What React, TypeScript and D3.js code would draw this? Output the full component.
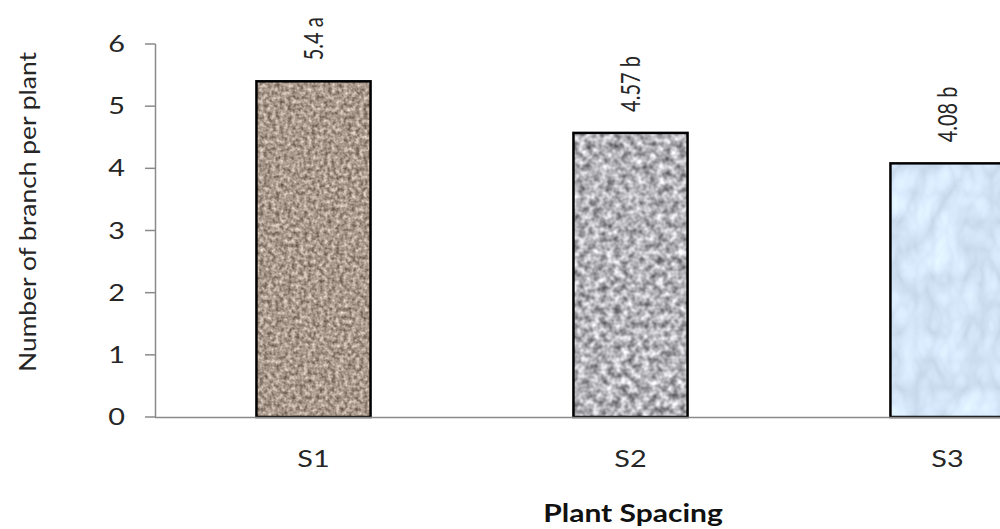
import React from "react";
import * as d3 from "d3";

// Number of branches per plant by plant spacing
const categories = ["S1", "S2", "S3"];
const values = [5.4, 4.57, 4.08];
const letters = ["a", "b", "b"];
const yTicks = [0, 1, 2, 3, 4, 5, 6];

const W = 1000;
const H = 529;
const FONT = "Lato, 'Open Sans', sans-serif";

// texture settings per bar: base frequency, colour-matrix gain, target mean colour, noise mean
const textures = [
  { freq: "0.25", octaves: 2, k: 0.75, o: [0.66, 0.6, 0.55], mean: 0.5, type: "fractalNoise", seed: 3, blur: 0.5 },
  { freq: "0.14", octaves: 2, k: 0.95, o: [0.7, 0.7, 0.72], mean: 0.5, type: "fractalNoise", seed: 7, blur: 0.7 },
  { freq: "0.03 0.018", octaves: 3, k: 0.2, o: [0.82, 0.89, 0.96], mean: 0.25, type: "turbulence", seed: 11, blur: 0.6 },
];

export default function App() {
  const x = d3
    .scaleBand<string>()
    .domain(categories)
    .range([155, 155 + 3 * 317])
    .paddingInner(0.64)
    .paddingOuter(0.32);
  const y = d3.scaleLinear().domain([0, 6]).range([417, 44]);
  const axisColor = "#8a8a8a";
  const textColor = "#262626";

  return (
    <svg
      width={W}
      height={H}
      style={{ position: "absolute", left: 0, top: 0, background: "#fff" }}
    >
      <defs>
        {textures.map((t, i) => {
          const m = [
            `${t.k} 0 0 0 ${t.o[0] - t.k * t.mean}`,
            `${t.k} 0 0 0 ${t.o[1] - t.k * t.mean}`,
            `${t.k} 0 0 0 ${t.o[2] - t.k * t.mean}`,
            `0 0 0 0 1`,
          ].join(" ");
          return (
            <filter
              id={`tex${i}`}
              key={i}
              x="0"
              y="0"
              width="1"
              height="1"
              filterUnits="objectBoundingBox"
              colorInterpolationFilters="sRGB"
            >
              <feTurbulence
                type={t.type}
                baseFrequency={t.freq}
                numOctaves={t.octaves}
                seed={t.seed}
                result="noise"
              />
              <feColorMatrix in="noise" type="matrix" values={m} result="col" />
              <feGaussianBlur in="col" stdDeviation={t.blur} result="soft" />
              <feComposite in="soft" in2="SourceGraphic" operator="in" />
            </filter>
          );
        })}
      </defs>

      {/* y axis */}
      <line x1={155.5} x2={155.5} y1={y(6)} y2={y(0)} stroke={axisColor} strokeWidth={1.5} />
      {yTicks.map((t) => (
        <g key={t}>
          <line x1={145} x2={155.5} y1={y(t)} y2={y(t)} stroke={axisColor} strokeWidth={1.5} />
          <text
            transform={`translate(125,${y(t) + 8}) scale(1.2,1)`}
            textAnchor="end"
            fontFamily={FONT}
            fontSize={24}
            fill={textColor}
          >
            {t}
          </text>
        </g>
      ))}

      {/* bars */}
      {categories.map((c, i) => {
        const x0 = x(c)!;
        const bw = x.bandwidth();
        const top = y(values[i]);
        return (
          <g key={c}>
            <rect x={x0} y={top} width={bw} height={y(0) - top} fill="#ccc" filter={`url(#tex${i})`} />
            <rect
              x={x0}
              y={top}
              width={bw}
              height={y(0) - top}
              fill="none"
              stroke="#000"
              strokeWidth={2.5}
            />
            <text
              transform={`translate(${x0 + bw / 2 + 9},${top - 21}) scale(1.3,1) rotate(-90)`}
              fontFamily={FONT}
              fontSize={20}
              fill={textColor}
            >
              {`${values[i]} ${letters[i]}`}
            </text>
            <text
              transform={`translate(${x0 + bw / 2},467) scale(1.2,1)`}
              textAnchor="middle"
              fontFamily={FONT}
              fontSize={24}
              fill={textColor}
            >
              {c}
            </text>
          </g>
        );
      })}

      {/* x axis */}
      <line x1={155} x2={W} y1={417.5} y2={417.5} stroke={axisColor} strokeWidth={1.5} />

      {/* axis titles */}
      <text
        transform="translate(633,522) scale(1.2,1)"
        textAnchor="middle"
        fontFamily={FONT}
        fontSize={25}
        fontWeight="bold"
        fill="#111"
      >
        Plant Spacing
      </text>
      <text
        transform={`translate(36,212) rotate(-90)`}
        textAnchor="middle"
        fontFamily={FONT}
        fontSize={24}
        fill={textColor}
        textLength={320}
        lengthAdjust="spacingAndGlyphs"
      >
        Number of branch per plant
      </text>
    </svg>
  );
}
